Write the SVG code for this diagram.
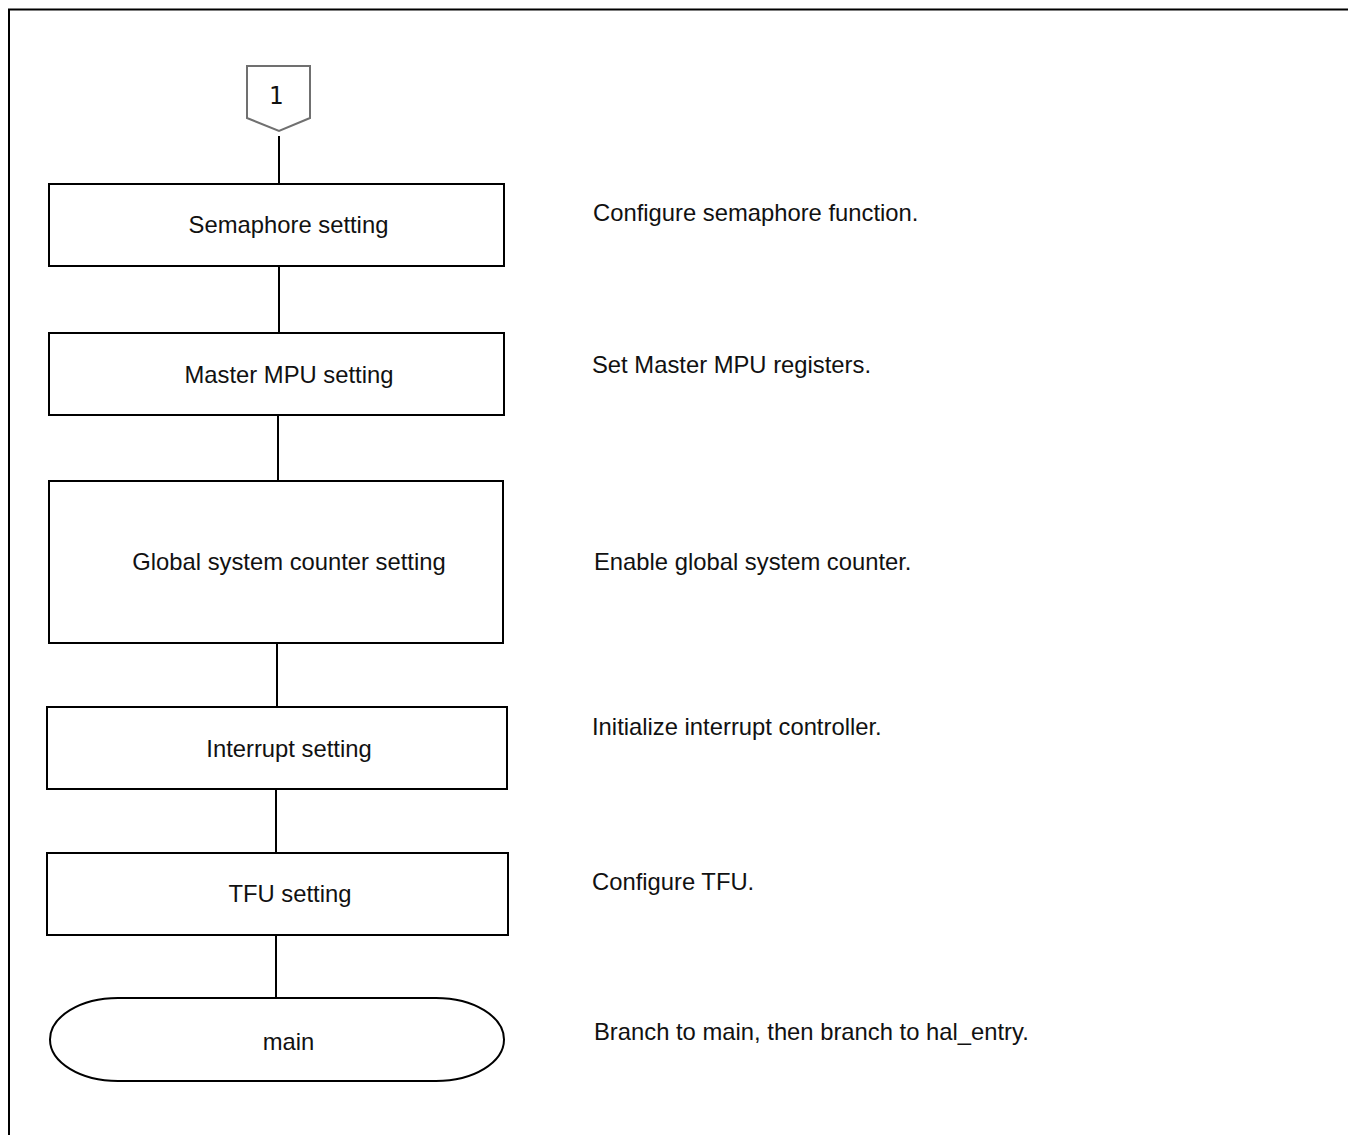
<svg xmlns="http://www.w3.org/2000/svg" width="1348" height="1135" viewBox="0 0 1348 1135">
<style>
.box{fill:#fff;stroke:#000;stroke-width:2}
.ln{stroke:#000;stroke-width:2;fill:none}
.t{font-family:"Liberation Sans",Arial,sans-serif;font-size:23.8px;fill:#111}
.c{text-anchor:middle}
</style>
<rect width="1348" height="1135" fill="#fff"/>
<path class="ln" d="M9,1135 V9.5 H1348"/>
<g id="connectors">
<line class="ln" x1="279" y1="136" x2="279" y2="184"/>
<line class="ln" x1="279" y1="266" x2="279" y2="333"/>
<line class="ln" x1="278" y1="415" x2="278" y2="481"/>
<line class="ln" x1="277" y1="643" x2="277" y2="707"/>
<line class="ln" x1="276" y1="789" x2="276" y2="853"/>
<line class="ln" x1="276" y1="935" x2="276" y2="998"/>
</g>
<g id="offpage1">
<path d="M247,66 H310 V118 L279,131 L247,118 Z" fill="#fff" stroke="#707070" stroke-width="2"/>
<text class="t c" x="276" y="104" style="font-size:24px;font-family:'DejaVu Sans Mono','Liberation Mono',monospace">1</text>
</g>
<g id="semaphore">
<rect class="box" x="49" y="184" width="455" height="82"/>
<text class="t c" x="288.5" y="233">Semaphore setting</text>
</g>
<g id="mpu">
<rect class="box" x="49" y="333" width="455" height="82"/>
<text class="t c" x="289" y="383">Master MPU setting</text>
</g>
<g id="gsc">
<rect class="box" x="49" y="481" width="454" height="162"/>
<text class="t c" x="289" y="570">Global system counter setting</text>
</g>
<g id="interrupt">
<rect class="box" x="47" y="707" width="460" height="82"/>
<text class="t c" x="289" y="757">Interrupt setting</text>
</g>
<g id="tfu">
<rect class="box" x="47" y="853" width="461" height="82"/>
<text class="t c" x="290" y="902">TFU setting</text>
</g>
<g id="main">
<rect class="box" x="50" y="998" width="454" height="83" rx="68" ry="41.5"/>
<text class="t c" x="288.5" y="1050">main</text>
</g>
<g id="notes">
<text class="t" x="593" y="221">Configure semaphore function.</text>
<text class="t" x="592" y="373">Set Master MPU registers.</text>
<text class="t" x="594" y="570">Enable global system counter.</text>
<text class="t" x="592" y="735">Initialize interrupt controller.</text>
<text class="t" x="592" y="890">Configure TFU.</text>
<text class="t" x="594" y="1040">Branch to main, then branch to hal_entry.</text>
</g>
</svg>
